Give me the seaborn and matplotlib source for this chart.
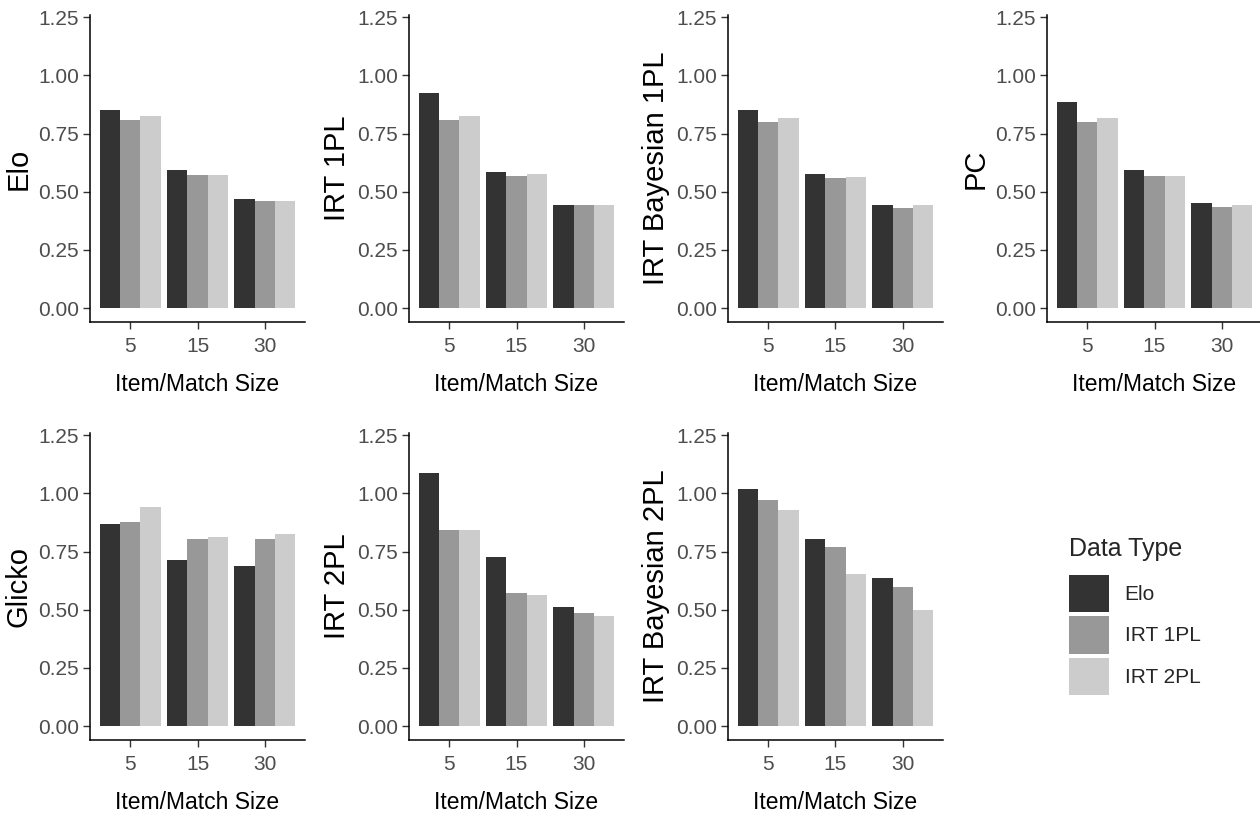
import pandas as pd
import matplotlib.pyplot as plt
import seaborn as sns
from matplotlib.patches import Patch

# --- data ---
sizes = ['5', '15', '30']
data_types = ['Elo', 'IRT 1PL', 'IRT 2PL']
grey_fill = ['#333333', '#989898', '#CCCCCC']

# each row: one item/match size (5, 15, 30); columns follow data_types
elo = [[0.852, 0.807, 0.825], [0.592, 0.574, 0.574], [0.468, 0.460, 0.460]]
irt_1pl = [[0.923, 0.807, 0.825], [0.585, 0.566, 0.576], [0.441, 0.441, 0.441]]
irt_bayes_1pl = [[0.852, 0.800, 0.818], [0.576, 0.559, 0.564], [0.441, 0.431, 0.441]]
pc = [[0.888, 0.800, 0.818], [0.593, 0.566, 0.566], [0.450, 0.433, 0.441]]
glicko = [[0.867, 0.877, 0.940], [0.716, 0.805, 0.814], [0.689, 0.805, 0.824]]
irt_2pl = [[1.090, 0.842, 0.842], [0.725, 0.573, 0.564], [0.510, 0.484, 0.474]]
irt_bayes_2pl = [[1.020, 0.974, 0.930], [0.805, 0.769, 0.652], [0.636, 0.600, 0.501]]

panels = [
    ('Elo', elo), ('IRT 1PL', irt_1pl), ('IRT Bayesian 1PL', irt_bayes_1pl), ('PC', pc),
    ('Glicko', glicko), ('IRT 2PL', irt_2pl), ('IRT Bayesian 2PL', irt_bayes_2pl),
]

rows = []
for model, vals in panels:
    for i, s in enumerate(sizes):
        for j, t in enumerate(data_types):
            rows.append({'model': model, 'size': s, 'type': t, 'value': vals[i][j]})
df = pd.DataFrame(rows)

sns.set_style('white')
plt.rcParams['font.family'] = ['Liberation Sans', 'DejaVu Sans']

fig = plt.figure(figsize=(12.6, 8.18), dpi=100)
W, H = 1260, 818
lefts = [90, 409, 728, 1047]
pw, ph = 215, 307
row_bottoms = [322, 740]

for k, (model, _) in enumerate(panels):
    r, c = divmod(k, 4)
    ax = fig.add_axes([lefts[c] / W, 1 - row_bottoms[r] / H, pw / W, ph / H])
    sub = df[df['model'] == model]
    sns.barplot(data=sub, x='size', y='value', hue='type', order=sizes,
                hue_order=data_types, palette=grey_fill, width=0.9, gap=0,
                linewidth=0, legend=False, ax=ax)
    ax.set_xlim(-0.6, 2.6)
    ax.set_ylim(-0.06, 1.26)
    ax.set_yticks([0, 0.25, 0.5, 0.75, 1.0, 1.25])
    ax.set_yticklabels(['0.00', '0.25', '0.50', '0.75', '1.00', '1.25'])
    sns.despine(ax=ax)
    for sp in ['left', 'bottom']:
        ax.spines[sp].set_color('black')
        ax.spines[sp].set_linewidth(1.1)
    ax.tick_params(axis='both', bottom=True, left=True, length=5, width=1,
                   color='#333333', labelcolor='#4D4D4D', labelsize=15)
    ax.tick_params(axis='y', pad=3)
    ax.tick_params(axis='x', pad=6)
    ax.set_xlabel('Item/Match Size', fontsize=16.5, color='black', labelpad=12)
    ax.set_ylabel(model, fontsize=21, color='black', labelpad=4)
    ax.set_facecolor('white')

handles = [Patch(facecolor=col, edgecolor='none', label=t) for col, t in zip(grey_fill, data_types)]
leg = fig.legend(handles=handles, title='Data Type', loc='upper left',
                 bbox_to_anchor=(1061 / W, 1 - 529 / H), frameon=False,
                 fontsize=15, title_fontsize=18, handlelength=1.9, handleheight=2.36,
                 labelspacing=0.2, handletextpad=0.75, borderaxespad=0)
leg._legend_box.align = 'left'
leg._legend_box.sep = 10

fig.savefig('out.png', dpi=100, facecolor='white')
